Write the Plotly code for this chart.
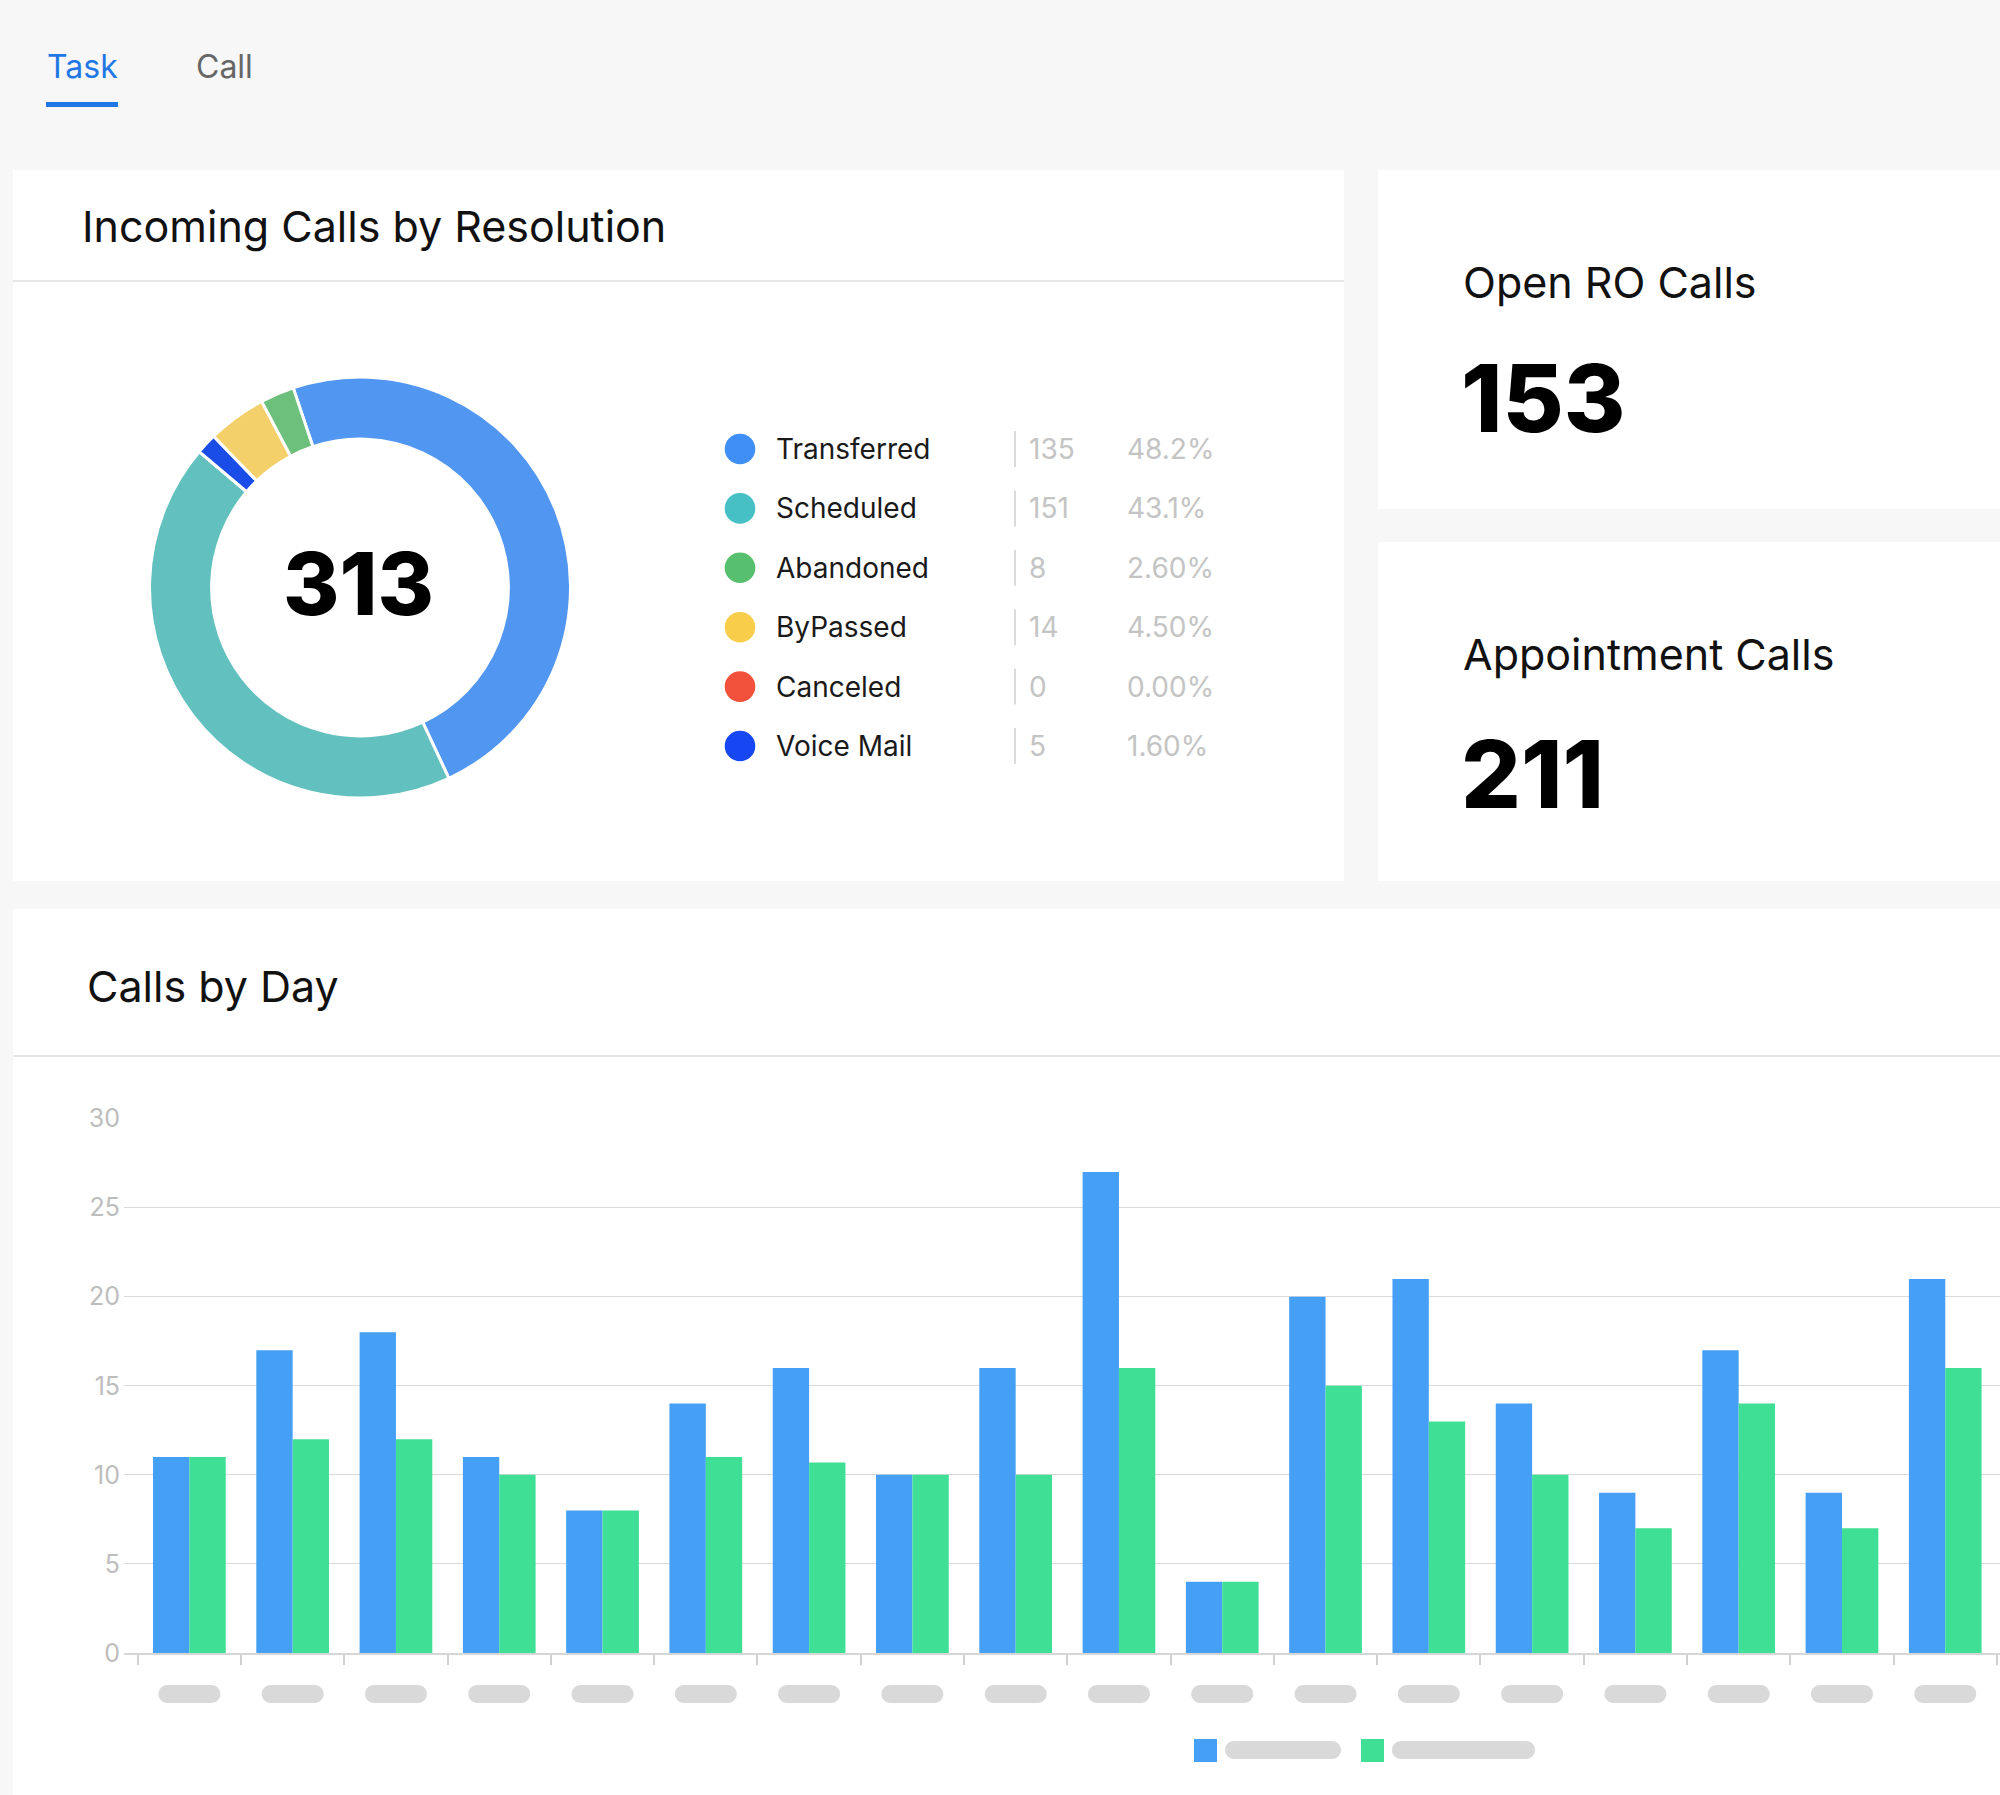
import plotly.graph_objects as go

W, H = 2000, 1795

# ---------------- data ----------------
res_labels = ["Transferred", "Scheduled", "Abandoned", "ByPassed", "Canceled", "Voice Mail"]
res_counts = ["135", "151", "8", "14", "0", "5"]
res_pcts = ["48.2%", "43.1%", "2.60%", "4.50%", "0.00%", "1.60%"]
res_shares = [48.2, 43.1, 2.6, 4.5, 0.0, 1.6]
total_calls = "313"
pie_order = ["Transferred", "Scheduled", "Canceled", "Voice Mail", "ByPassed", "Abandoned"]

dot_colors = {"Transferred": "#3f8ff6", "Scheduled": "#46c0c4", "Abandoned": "#57c06e",
              "ByPassed": "#f8cd4a", "Canceled": "#f2513c", "Voice Mail": "#1747f2"}
slice_colors = {"Transferred": "#5196f0", "Scheduled": "#62c1bf", "Abandoned": "#6cc07c",
                "ByPassed": "#f4d06b", "Canceled": "#f2513c", "Voice Mail": "#1a4de8"}

card_titles = ["Open RO Calls", "Appointment Calls"]
card_values = ["153", "211"]

tabs = ["Task", "Call"]

days = ["D01", "D02", "D03", "D04", "D05", "D06", "D07", "D08", "D09",
        "D10", "D11", "D12", "D13", "D14", "D15", "D16", "D17", "D18"]
series_a = [11, 17, 18, 11, 8, 14, 16, 10, 16, 27, 4, 20, 21, 14, 9, 17, 9, 21]
series_b = [11, 12, 12, 10, 8, 11, 10.7, 10, 10, 16, 4, 15, 13, 10, 7, 14, 7, 16]
y_ticks = [0, 5, 10, 15, 20, 25, 30]

BLUE_BAR = "#449ff5"
GREEN_BAR = "#3fe096"
FONT = "Inter"


def px(x):
    return x / W


def py(y):
    return 1 - y / H


fig = go.Figure()

# donut
share_map = dict(zip(res_labels, res_shares))
fig.add_trace(go.Pie(
    labels=pie_order,
    values=[share_map[k] for k in pie_order],
    marker=dict(colors=[slice_colors[k] for k in pie_order], line=dict(color="white", width=3)),
    hole=0.705, sort=False, direction="clockwise", rotation=-18.5,
    textinfo="none", showlegend=False, hoverinfo="label+percent",
    domain=dict(x=[px(149.5), px(570.5)], y=[py(798), py(377)]),
))

# bars
fig.add_trace(go.Bar(x=days, y=series_a, marker=dict(color=BLUE_BAR, line=dict(width=0)),
                     name="Series A", showlegend=False))
fig.add_trace(go.Bar(x=days, y=series_b, marker=dict(color=GREEN_BAR, line=dict(width=0)),
                     name="Series B", showlegend=False))

shapes = []
annotations = []


def rect(x0, y0, x1, y1, color, layer="below"):
    shapes.append(dict(type="rect", xref="paper", yref="paper", x0=px(x0), x1=px(x1),
                       y0=py(y1), y1=py(y0), fillcolor=color, line=dict(width=0), layer=layer))


def hline(x0, x1, y, color, width):
    shapes.append(dict(type="line", xref="paper", yref="paper", x0=px(x0), x1=px(x1),
                       y0=py(y), y1=py(y), line=dict(color=color, width=width), layer="below"))


def text(x, y, s, size, color, xanchor="left", weight=None):
    f = dict(family=FONT, size=size, color=color)
    if weight:
        f["weight"] = weight
    annotations.append(dict(xref="paper", yref="paper", x=px(x), y=py(y), text=s,
                            showarrow=False, xanchor=xanchor, yanchor="middle", font=f))


def pill_path(w, h):
    r = h / 2
    k = 0.5523 * r
    a = w / 2 - r
    return (f"M {-a},{-r} L {a},{-r} C {a + k},{-r} {a + r},{-k} {a + r},0 "
            f"C {a + r},{k} {a + k},{r} {a},{r} L {-a},{r} "
            f"C {-a - k},{r} {-a - r},{k} {-a - r},0 C {-a - r},{-k} {-a - k},{-r} {-a},{-r} Z")


# panels
rect(13, 170, 1344, 881, "white")
rect(1378, 170, 2010, 509, "white")
rect(1378, 542, 2010, 881, "white")
rect(13, 909, 2010, 1800, "white")
hline(13, 1344, 281, "#dedede", 1.5)
hline(13, 2010, 1056, "#dedede", 1.5)

# tabs
text(45, 66, tabs[0], 32, "#1f78e6")
text(194, 66, tabs[1], 32, "#666666")
rect(46, 102, 118, 107, "#1f78e6", layer="above")

# panel titles
text(80, 226, "Incoming Calls by Resolution", 43, "#111111")
text(85, 986, "Calls by Day", 43, "#111111")

# donut center
text(358, 584, total_calls, 86, "#000000", xanchor="center", weight=800)

# resolution legend
for i, lab in enumerate(res_labels):
    yc = 449 + 59.4 * i
    shapes.append(dict(type="circle", xref="paper", yref="paper",
                       x0=px(740 - 15.3), x1=px(740 + 15.3), y0=py(yc + 15.3), y1=py(yc - 15.3),
                       fillcolor=dot_colors[lab], line=dict(width=0)))
    shapes.append(dict(type="line", xref="paper", yref="paper", x0=px(1015), x1=px(1015),
                       y0=py(yc + 18), y1=py(yc - 18), line=dict(color="#cfcfcf", width=1.5)))
    text(774, yc, lab, 28, "#1a1a1a")
    text(1027, yc, res_counts[i], 28, "#c4c4c4")
    text(1125, yc, res_pcts[i], 28, "#c4c4c4")

# cards
text(1461, 282, card_titles[0], 43, "#111111")
text(1459, 398, card_values[0], 94, "#000000", weight=800)
text(1461, 654, card_titles[1], 43, "#111111")
text(1459, 774, card_values[1], 94, "#000000", weight=800)

# x tick placeholder pills
for d in days:
    shapes.append(dict(type="path", xref="x", yref="paper", xsizemode="pixel", ysizemode="pixel",
                       xanchor=d, yanchor=py(1694), path=pill_path(62, 18),
                       fillcolor="#d9d9d9", line=dict(width=0)))

# bottom legend (squares + placeholder pills)
rect(1194, 1739, 1217, 1762, BLUE_BAR, layer="above")
rect(1361, 1739, 1384, 1762, GREEN_BAR, layer="above")
for x0, x1 in [(1225, 1341), (1392, 1535)]:
    shapes.append(dict(type="path", xref="paper", yref="paper", xsizemode="pixel", ysizemode="pixel",
                       xanchor=px((x0 + x1) / 2), yanchor=py(1750), path=pill_path(x1 - x0, 18),
                       fillcolor="#d9d9d9", line=dict(width=0)))

fig.update_layout(
    width=W, height=H, margin=dict(l=0, r=0, t=0, b=0, pad=0, autoexpand=False),
    paper_bgcolor="#f7f7f7", plot_bgcolor="rgba(0,0,0,0)",
    font=dict(family=FONT), showlegend=False,
    barmode="group", bargap=0.296, bargroupgap=0,
    shapes=shapes, annotations=annotations,
    xaxis=dict(domain=[px(124), 1], type="category", categoryarray=days,
               range=[-0.633, 17.53], tickson="boundaries", ticks="outside", ticklen=10,
               tickwidth=1.5, tickcolor="#d0d0d0", showticklabels=False, showgrid=False,
               showline=True, linecolor="#d6d6d6", linewidth=2, zeroline=False,
               fixedrange=True, automargin=False),
    yaxis=dict(domain=[py(1653), py(1118.6)], range=[0, 30], tickvals=y_ticks,
               gridcolor="#dadada", gridwidth=1.3, zeroline=False, showline=False, ticks="",
               ticklabelstandoff=3,
               tickfont=dict(family=FONT, size=25, color="#bdbdbd"), fixedrange=True,
               automargin=False),
)

fig.write_html("out.html")
